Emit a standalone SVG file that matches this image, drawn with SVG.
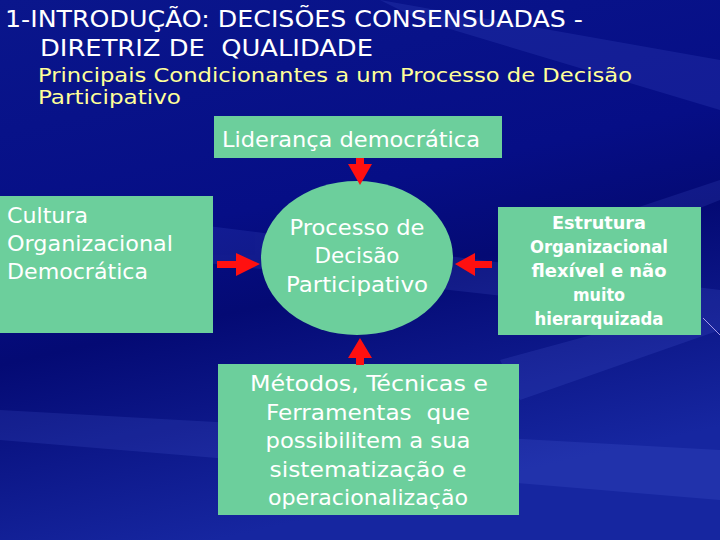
<svg xmlns="http://www.w3.org/2000/svg" width="720" height="540" viewBox="0 0 720 540">
<defs>
<linearGradient id="bg" x1="0" y1="0" x2="0.3" y2="1">
<stop offset="0" stop-color="#0a168c"/>
<stop offset="0.45" stop-color="#060e86"/>
<stop offset="0.62" stop-color="#040a74"/>
<stop offset="1" stop-color="#1626a0"/>
</linearGradient>
<style>
.box{fill:#6CCF9C}
.t{font-family:"DejaVu Sans Condensed","DejaVu Sans","Open Sans",sans-serif;fill:#ffffff}
.w{font-size:21px}
.b{font-size:17px;font-weight:bold}
.y{fill:#FFFF99}
.arr{fill:#ff1010}
</style>
</defs>
<rect x="0" y="0" width="720" height="540" fill="url(#bg)"/>
<g opacity="0.12" fill="#6f86ff">
<polygon points="380,0 720,60 720,110 420,20"/>
<polygon points="0,200 720,290 720,320 0,240"/>
<polygon points="500,360 720,300 720,330 520,400"/>
<polygon points="0,410 720,450 720,500 0,440"/>
<polygon points="600,220 720,180 720,200 620,240"/>
</g>
<line x1="703" y1="318" x2="720" y2="335" stroke="#c9b8ff" stroke-width="1" opacity="0.8"/>

<g id="title">
<text class="t" x="5" y="27" font-size="23" textLength="578" lengthAdjust="spacingAndGlyphs">1-INTRODUÇÃO: DECISÕES CONSENSUADAS -</text>
<text class="t" x="40" y="56" font-size="23" xml:space="preserve" textLength="333" lengthAdjust="spacingAndGlyphs">DIRETRIZ DE  QUALIDADE</text>
<text class="t y" x="38" y="82" font-size="19" textLength="594" lengthAdjust="spacingAndGlyphs">Principais Condicionantes a um Processo de Decisão</text>
<text class="t y" x="38" y="104" font-size="19" textLength="143" lengthAdjust="spacingAndGlyphs">Participativo</text>
</g>

<g id="lideranca">
<rect class="box" x="214" y="116" width="288" height="42"/>
<text class="t w" x="222" y="147" textLength="258" lengthAdjust="spacingAndGlyphs">Liderança democrática</text>
</g>

<g id="cultura">
<rect class="box" x="0" y="196" width="213" height="137"/>
<text class="t w" x="7" y="223" textLength="81" lengthAdjust="spacingAndGlyphs">Cultura</text>
<text class="t w" x="7" y="251" textLength="166" lengthAdjust="spacingAndGlyphs">Organizacional</text>
<text class="t w" x="7" y="279" textLength="141" lengthAdjust="spacingAndGlyphs">Democrática</text>
</g>

<g id="processo">
<ellipse class="box" cx="357" cy="258" rx="96" ry="77"/>
<text class="t w" x="357" y="235" text-anchor="middle" textLength="135" lengthAdjust="spacingAndGlyphs">Processo de</text>
<text class="t w" x="357" y="263" text-anchor="middle" textLength="85" lengthAdjust="spacingAndGlyphs">Decisão</text>
<text class="t w" x="357" y="292" text-anchor="middle" textLength="142" lengthAdjust="spacingAndGlyphs">Participativo</text>
</g>

<g id="estrutura">
<rect class="box" x="498" y="207" width="203" height="128"/>
<text class="t b" x="599" y="229" text-anchor="middle" textLength="94" lengthAdjust="spacingAndGlyphs">Estrutura</text>
<text class="t b" x="599" y="253" text-anchor="middle" textLength="138" lengthAdjust="spacingAndGlyphs">Organizacional</text>
<text class="t b" x="599" y="277" text-anchor="middle" textLength="135" lengthAdjust="spacingAndGlyphs">flexível e não</text>
<text class="t b" x="599" y="301" text-anchor="middle" textLength="52" lengthAdjust="spacingAndGlyphs">muito</text>
<text class="t b" x="599" y="325" text-anchor="middle" textLength="129" lengthAdjust="spacingAndGlyphs">hierarquizada</text>
</g>

<g id="metodos">
<rect class="box" x="218" y="364" width="301" height="151"/>
<text class="t w" x="369" y="391" text-anchor="middle" textLength="238" lengthAdjust="spacingAndGlyphs">Métodos, Técnicas e</text>
<text class="t w" x="368" y="420" text-anchor="middle" xml:space="preserve" textLength="204" lengthAdjust="spacingAndGlyphs">Ferramentas  que</text>
<text class="t w" x="368" y="448" text-anchor="middle" textLength="205" lengthAdjust="spacingAndGlyphs">possibilitem a sua</text>
<text class="t w" x="368" y="477" text-anchor="middle" textLength="197" lengthAdjust="spacingAndGlyphs">sistematização e</text>
<text class="t w" x="368" y="505" text-anchor="middle" textLength="200" lengthAdjust="spacingAndGlyphs">operacionalização</text>
</g>

<g id="connectors">
<polygon class="arr" points="356,158 364,158 364,164 372,164 360,185 348,164 356,164"/>
<polygon class="arr" points="217,261 236,261 236,253 260,264 236,276 236,268 217,268"/>
<polygon class="arr" points="492,261 475,261 475,253 455,264 475,276 475,268 492,268"/>
<polygon class="arr" points="356,365 364,365 364,358 372,358 360,338 348,358 356,358"/>
</g>
</svg>
